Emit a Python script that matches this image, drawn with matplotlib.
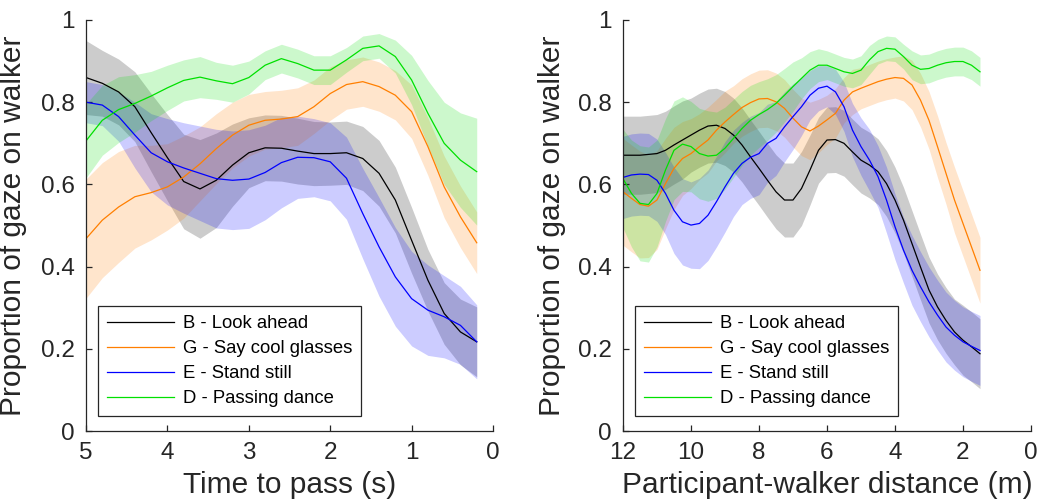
import matplotlib
matplotlib.use("Agg")
import matplotlib.pyplot as plt

plt.rcParams["font.family"] = ["Liberation Sans", "DejaVu Sans"]

labels = ["B - Look ahead", "G - Say cool glasses", "E - Stand still", "D - Passing dance"]
colors = ["#000000", "#ff7f00", "#0000ff", "#00e000"]

# left panel: time to pass (s)
x_time = [5.0, 4.8, 4.6, 4.4, 4.2, 4.0, 3.8, 3.6, 3.4, 3.2, 3.0, 2.8, 2.6,
          2.4, 2.2, 2.0, 1.8, 1.6, 1.4, 1.2, 1.0, 0.8, 0.6, 0.4, 0.2]
b_time = [0.860, 0.846, 0.825, 0.789, 0.726, 0.665, 0.607, 0.589, 0.610, 0.647, 0.677, 0.689, 0.688,
          0.681, 0.675, 0.675, 0.677, 0.663, 0.627, 0.562, 0.464, 0.367, 0.286, 0.241, 0.217]
g_time = [0.468, 0.513, 0.545, 0.570, 0.580, 0.594, 0.618, 0.650, 0.687, 0.720, 0.744, 0.756, 0.759,
          0.765, 0.789, 0.821, 0.843, 0.850, 0.838, 0.817, 0.777, 0.692, 0.594, 0.521, 0.458]
e_time = [0.800, 0.793, 0.765, 0.720, 0.677, 0.655, 0.640, 0.627, 0.614, 0.610, 0.613, 0.629, 0.653,
          0.666, 0.665, 0.655, 0.615, 0.529, 0.448, 0.375, 0.322, 0.294, 0.278, 0.257, 0.217]
d_time = [0.706, 0.756, 0.782, 0.797, 0.815, 0.835, 0.853, 0.861, 0.852, 0.845, 0.860, 0.890, 0.906,
          0.894, 0.878, 0.878, 0.903, 0.931, 0.937, 0.911, 0.854, 0.773, 0.700, 0.659, 0.631]
b_time_sd = [0.09, 0.08, 0.08, 0.085, 0.095, 0.105, 0.115, 0.12, 0.115, 0.10, 0.085, 0.08, 0.08,
             0.08, 0.078, 0.077, 0.077, 0.078, 0.08, 0.08, 0.08, 0.075, 0.075, 0.08, 0.085]
g_time_sd = [0.145, 0.14, 0.135, 0.125, 0.115, 0.105, 0.10, 0.09, 0.085, 0.08, 0.075, 0.07, 0.07,
             0.07, 0.065, 0.065, 0.06, 0.06, 0.06, 0.06, 0.065, 0.07, 0.075, 0.075, 0.075]
e_time_sd = [0.05, 0.05, 0.06, 0.08, 0.095, 0.105, 0.11, 0.115, 0.12, 0.12, 0.12, 0.115, 0.11,
             0.10, 0.095, 0.095, 0.10, 0.11, 0.12, 0.12, 0.115, 0.11, 0.10, 0.095, 0.09]
d_time_sd = [0.09, 0.085, 0.08, 0.07, 0.06, 0.055, 0.05, 0.05, 0.045, 0.045, 0.04, 0.035, 0.035,
             0.035, 0.035, 0.035, 0.03, 0.03, 0.03, 0.04, 0.06, 0.08, 0.10, 0.115, 0.13]

# right panel: participant-walker distance (m)
x_dist = [12.0, 11.75, 11.5, 11.25, 11.0, 10.75, 10.5, 10.25, 10.0, 9.75, 9.5, 9.25, 9.0,
          8.75, 8.5, 8.25, 8.0, 7.75, 7.5, 7.25, 7.0, 6.75, 6.5, 6.25, 6.0, 5.75, 5.5,
          5.25, 5.0, 4.75, 4.5, 4.25, 4.0, 3.75, 3.5, 3.25, 3.0, 2.75, 2.5, 2.25, 2.0,
          1.75, 1.5]
b_dist = [0.671, 0.671, 0.671, 0.673, 0.675, 0.683, 0.696, 0.708, 0.720, 0.732, 0.742, 0.744, 0.736,
          0.720, 0.696, 0.667, 0.639, 0.610, 0.582, 0.562, 0.562, 0.590, 0.635, 0.683, 0.708, 0.709, 0.700,
          0.679, 0.659, 0.647, 0.631, 0.602, 0.562, 0.513, 0.456, 0.399, 0.343, 0.302, 0.269, 0.241, 0.221,
          0.205, 0.188]
g_dist = [0.582, 0.566, 0.551, 0.547, 0.562, 0.602, 0.639, 0.663, 0.675, 0.692, 0.708, 0.732, 0.752,
          0.770, 0.787, 0.799, 0.808, 0.809, 0.801, 0.785, 0.761, 0.740, 0.730, 0.742, 0.757, 0.773, 0.805,
          0.825, 0.834, 0.842, 0.850, 0.856, 0.860, 0.858, 0.842, 0.805, 0.756, 0.692, 0.627, 0.562, 0.505,
          0.448, 0.391]
e_dist = [0.617, 0.623, 0.625, 0.624, 0.610, 0.578, 0.537, 0.509, 0.501, 0.505, 0.525, 0.558, 0.594,
          0.627, 0.651, 0.666, 0.675, 0.700, 0.712, 0.740, 0.765, 0.789, 0.817, 0.834, 0.839, 0.825, 0.789,
          0.732, 0.692, 0.659, 0.619, 0.562, 0.497, 0.440, 0.391, 0.351, 0.314, 0.282, 0.253, 0.233, 0.217,
          0.206, 0.196]
d_dist = [0.614, 0.578, 0.554, 0.551, 0.578, 0.635, 0.683, 0.698, 0.692, 0.675, 0.669, 0.671, 0.688,
          0.712, 0.736, 0.756, 0.770, 0.782, 0.797, 0.817, 0.838, 0.858, 0.878, 0.890, 0.890, 0.882, 0.874,
          0.870, 0.878, 0.903, 0.923, 0.931, 0.929, 0.911, 0.890, 0.880, 0.882, 0.890, 0.896, 0.899, 0.899,
          0.890, 0.874]
b_dist_sd = [0.095, 0.095, 0.095, 0.095, 0.095, 0.095, 0.095, 0.095, 0.09, 0.09, 0.09, 0.09, 0.09,
             0.09, 0.09, 0.09, 0.09, 0.09, 0.09, 0.09, 0.09, 0.09, 0.085, 0.08, 0.08, 0.08, 0.08,
             0.08, 0.08, 0.08, 0.08, 0.08, 0.08, 0.08, 0.08, 0.08, 0.08, 0.08, 0.08, 0.08, 0.085,
             0.085, 0.085]
g_dist_sd = [0.13, 0.13, 0.13, 0.125, 0.12, 0.11, 0.10, 0.09, 0.085, 0.08, 0.08, 0.075, 0.075,
             0.07, 0.07, 0.07, 0.07, 0.07, 0.07, 0.07, 0.07, 0.07, 0.07, 0.065, 0.06, 0.06, 0.055,
             0.055, 0.05, 0.05, 0.05, 0.05, 0.05, 0.055, 0.06, 0.065, 0.07, 0.075, 0.075, 0.08, 0.08,
             0.08, 0.08]
e_dist_sd = [0.10, 0.10, 0.10, 0.10, 0.10, 0.10, 0.105, 0.105, 0.105, 0.11, 0.11, 0.11, 0.11,
             0.105, 0.10, 0.10, 0.10, 0.095, 0.09, 0.085, 0.08, 0.07, 0.06, 0.055, 0.05, 0.055, 0.06,
             0.065, 0.07, 0.075, 0.075, 0.08, 0.08, 0.08, 0.085, 0.085, 0.085, 0.085, 0.085, 0.085, 0.085,
             0.085, 0.085]
d_dist_sd = [0.12, 0.13, 0.14, 0.14, 0.13, 0.125, 0.12, 0.115, 0.11, 0.11, 0.11, 0.105, 0.10,
             0.095, 0.09, 0.085, 0.08, 0.075, 0.07, 0.065, 0.06, 0.05, 0.045, 0.04, 0.035, 0.035, 0.035,
             0.035, 0.035, 0.035, 0.03, 0.03, 0.03, 0.03, 0.035, 0.035, 0.035, 0.035, 0.035, 0.035, 0.035,
             0.035, 0.035]

fig = plt.figure(figsize=(10.39, 5.0), dpi=100)
ax1 = fig.add_axes([0.0828, 0.138, 0.3917, 0.822])
ax2 = fig.add_axes([0.5996, 0.138, 0.3927, 0.822])


def draw_panel(ax, x, means, sds, xlim, xticks, xlabel, ylabel_x):
    for m, s, c, lab in zip(means, sds, colors, labels):
        lo = [a - b for a, b in zip(m, s)]
        hi = [a + b for a, b in zip(m, s)]
        ax.fill_between(x, lo, hi, color=c, alpha=0.2, linewidth=0)
        ax.plot(x, m, color=c, lw=0.9, label=lab)
    ax.set_xlim(*xlim)
    ax.set_ylim(0, 1)
    ax.set_xticks(xticks)
    ax.set_yticks([0, 0.2, 0.4, 0.6, 0.8, 1])
    ax.set_yticklabels(["0", "0.2", "0.4", "0.6", "0.8", "1"])
    for sp in ["top", "right"]:
        ax.spines[sp].set_visible(False)
    for sp in ["left", "bottom"]:
        ax.spines[sp].set_color("#262626")
        ax.spines[sp].set_linewidth(0.9)
    ax.tick_params(direction="in", length=4, width=0.9, color="#262626",
                   labelsize=17.5, labelcolor="#262626", pad=8)
    ax.set_xlabel(xlabel, fontsize=21.5, color="#262626", labelpad=5)
    ax.set_ylabel("Proportion of gaze on walker", fontsize=21.5, color="#262626")
    ax.yaxis.set_label_coords(ylabel_x, 0.5)
    leg = ax.legend(loc="lower left", bbox_to_anchor=(0.029, 0.036), borderaxespad=0,
                    fontsize=13.3, frameon=True, fancybox=False, framealpha=1,
                    handlelength=3.6, handletextpad=0.5, labelspacing=0.43,
                    borderpad=0.5)
    leg.get_frame().set_edgecolor("#262626")
    leg.get_frame().set_linewidth(0.9)


draw_panel(ax1, x_time, [b_time, g_time, e_time, d_time],
           [b_time_sd, g_time_sd, e_time_sd, d_time_sd],
           (5, 0), [5, 4, 3, 2, 1, 0], "Time to pass (s)", -0.145)
draw_panel(ax2, x_dist, [b_dist, g_dist, e_dist, d_dist],
           [b_dist_sd, g_dist_sd, e_dist_sd, d_dist_sd],
           (12, 0), [12, 10, 8, 6, 4, 2, 0], "Participant-walker distance (m)", -0.14)

fig.savefig("out.png", dpi=100)
